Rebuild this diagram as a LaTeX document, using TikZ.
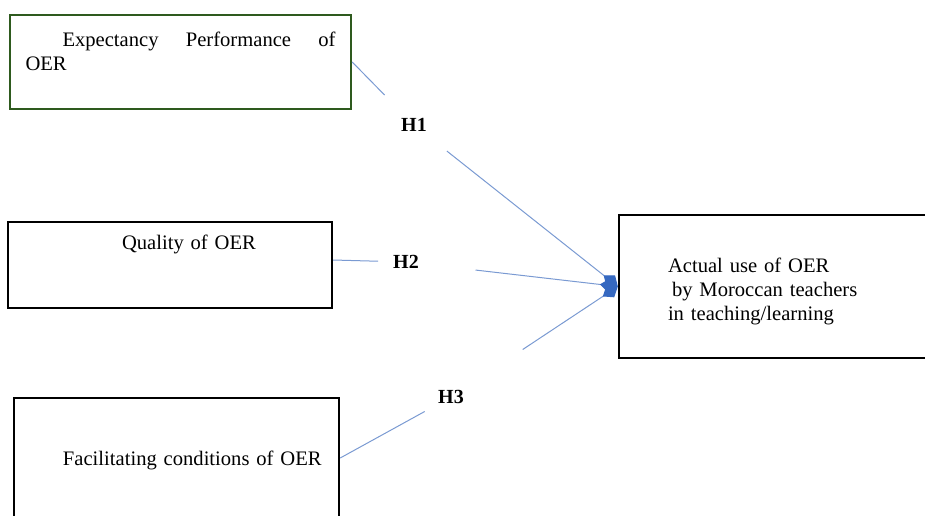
\documentclass[tikz,border=0pt]{standalone}
\usepackage{fontspec}
\setmainfont{Liberation Serif}
\usetikzlibrary{arrows.meta}
\definecolor{boxgreen}{HTML}{2E5A1E}
\definecolor{linkblue}{HTML}{7A9AD2}
\definecolor{tipblue}{HTML}{3568C0}

\begin{document}
\begin{tikzpicture}[x=0.5pt,y=-0.5pt,
                    box/.style={draw, line width=1.2pt, inner sep=0pt,
                                font=\fontsize{10.3}{12}\selectfont},
                    hyp/.style={font=\fontsize{10}{12}\selectfont\bfseries},
                    link/.style={draw=linkblue, line width=0.5pt},
                    tip/.style={-{Diamond[length=9pt,width=7pt,color=tipblue]}}]
\useasboundingbox (0,0) rectangle (925,515);

\node[box, draw=boxgreen, inner xsep=7.75pt, text width=155pt, align=justify,
      minimum height=47pt, text height=15.5pt, text depth=31.5pt] (exp) at (180.5,62)
      {\hspace*{18.5pt}Expectancy Performance of\linebreak OER};
\node[box, text width=162pt, align=left, minimum height=43pt,
      text height=13.5pt, text depth=29.5pt] (qual) at (170,265)
      {\hspace*{57pt}Quality of OER};
\node[box, text width=162.5pt, align=left, minimum height=60pt,
      text height=33.5pt, text depth=26.5pt] (fac) at (176.5,458)
      {\hspace*{24.5pt}Facilitating conditions of OER};
\node[box, text width=158pt, align=left, minimum height=71.5pt,
      text height=28.5pt, text depth=43pt] (use) at (777,286.5)
      {\hspace*{24.5pt}Actual use of OER\\\hspace*{26.5pt}by Moroccan teachers\\\hspace*{24.5pt}in teaching/learning};

\node[hyp] (h1) at (414,125) {H1};
\node[hyp] (h2) at (406,262) {H2};
\node[hyp] (h3) at (451,397) {H3};

\draw[link, shorten >=21pt] (exp.east) -- (h1.center);
\draw[link, tip, shorten <=21pt] (h1.center) -- (use.west);
\draw[link, shorten >=14pt] ([yshift=2.5pt]qual.east) -- (h2.center);
\draw[link, tip, shorten <=35pt] (h2.center) -- (use.west);
\draw[link, shorten >=15pt] (fac.east) -- (h3.center);
\draw[link, tip, shorten <=43pt] (h3.center) -- (use.west);

\end{tikzpicture}
\end{document}
